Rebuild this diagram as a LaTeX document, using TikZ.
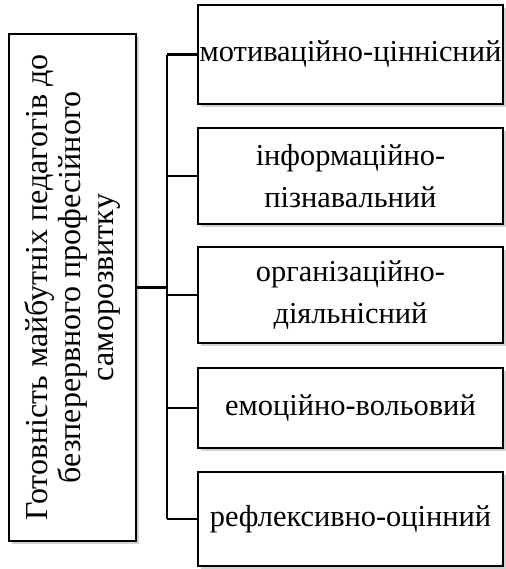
\documentclass[tikz,border=0pt]{standalone}
\usepackage{fontspec}
\setmainfont{Liberation Serif}
\usepackage{tikz}
\usetikzlibrary{shadows}

\begin{document}
\begin{tikzpicture}[x=0.5pt, y=-0.5pt, line width=1.4pt,
                box/.style={draw, fill=white, inner sep=0pt, align=center,
                    drop shadow={shadow xshift=1.5pt, shadow yshift=-1.5pt, fill=black!35},
                    minimum width=152.5pt, font=\fontsize{15.2}{21}\selectfont}]
                \useasboundingbox (0,0) rectangle (506,569);
                \node[box, rotate=90, minimum width=253.5pt, minimum height=63.5pt,
                    font=\fontsize{16}{16.5}\selectfont] (Gotc) at (72.5,287.5)
                    {Готовність майбутніх педагогів до\\безперервного професійного\\саморозвитку};
                \node[box, minimum height=49.5pt] (Motc) at (350.5,54.5) {мотиваційно-ціннісний};
                \node[box, minimum height=48pt] (Infc) at (350.5,176) {інформаційно-\\пізнавальний};
                \node[box, minimum height=48pt] (Orgc) at (350.5,295) {організаційно-\\діяльнісний};
                \node[box, minimum height=40pt] (Emoc) at (350.5,408) {емоційно-вольовий};
                \node[box, minimum height=47pt] (Refc) at (350.5,519) {рефлексивно-оцінний};
                \coordinate (Hubc) at (167,287.5);
                \draw (Gotc) -- (Hubc);
                \draw (Hubc |- Motc.west) -- (Hubc |- Refc.west);
                \draw (Hubc |- Motc.west) -- (Motc);
                \draw (Hubc |- Infc.west) -- (Infc);
                \draw (Hubc |- Orgc.west) -- (Orgc);
                \draw (Hubc |- Emoc.west) -- (Emoc);
                \draw (Hubc |- Refc.west) -- (Refc);
            \end{tikzpicture}
\end{document}
